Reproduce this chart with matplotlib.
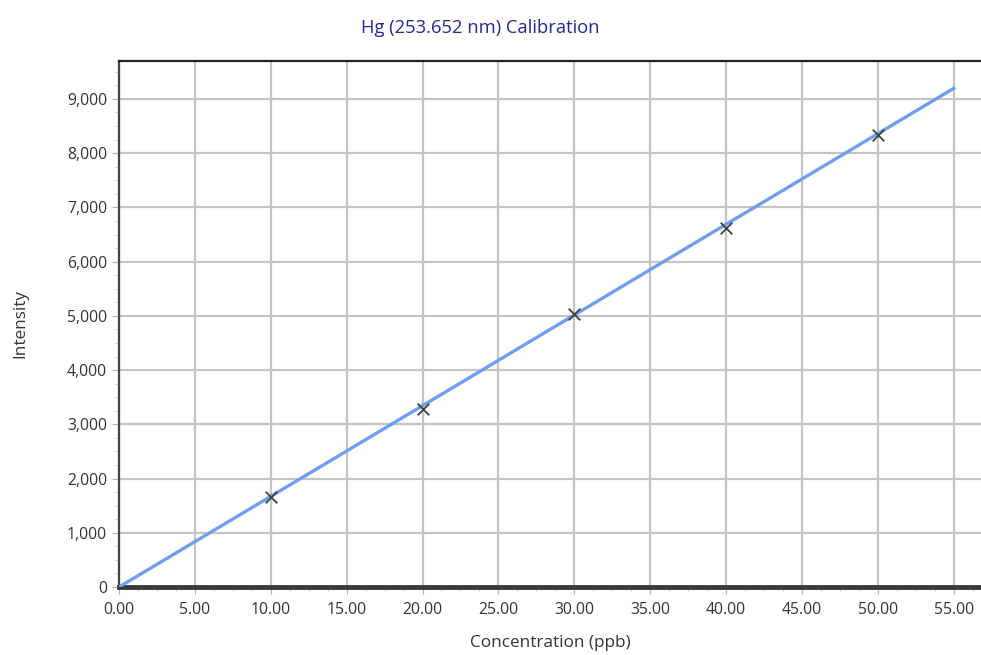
import matplotlib.pyplot as plt
from matplotlib.ticker import MultipleLocator, FuncFormatter

plt.rcParams['font.family'] = ['Open Sans', 'DejaVu Sans']

# calibration standards
conc = [10, 20, 30, 40, 50]
intensity = [1658, 3280, 5031, 6615, 8329]

# fitted calibration line end points
fit_x = [0, 55]
fit_y = [0, 9195]

fig = plt.figure(figsize=(9.81, 6.55), dpi=100)
ax = fig.add_axes([0.1213, 0.1038, 0.8787, 0.8031])

ax.plot(fit_x, fit_y, color='#6f9fec', lw=2.4, zorder=3)
ax.scatter(conc, intensity, marker='x', s=70, color='#404040', linewidths=1.3, zorder=4)

ax.set_xlim(0, 56.8)
ax.set_ylim(0, 9700)
ax.xaxis.set_major_locator(MultipleLocator(5))
ax.xaxis.set_minor_locator(MultipleLocator(1.25))
ax.yaxis.set_major_locator(MultipleLocator(1000))
ax.yaxis.set_minor_locator(MultipleLocator(250))
ax.xaxis.set_major_formatter(FuncFormatter(lambda v, p: f'{v:.2f}'))
ax.yaxis.set_major_formatter(FuncFormatter(lambda v, p: f'{v:,.0f}'))

ax.grid(True, which='major', color='#c4c4c4', lw=1.6)
ax.set_axisbelow(True)

ax.tick_params(which='major', length=5, color='#b0b0b0', labelsize=11.3, labelcolor='#333333')
ax.tick_params(axis='x', which='major', pad=6)
ax.tick_params(which='minor', length=3, color='#c8c8c8')

ax.spines['right'].set_visible(False)
ax.spines['top'].set_color('#222222')
ax.spines['top'].set_linewidth(1.6)
ax.spines['left'].set_color('#444444')
ax.spines['left'].set_linewidth(1.6)
ax.spines['bottom'].set_color('#3a3a3a')
ax.spines['bottom'].set_linewidth(3.5)

ax.set_xlabel('Concentration (ppb)', fontsize=12.3, color='#333333', labelpad=12)
ax.set_ylabel('Intensity', fontsize=12.3, color='#333333', labelpad=28)
fig.text(0.49, 0.958, 'Hg (253.652 nm) Calibration', ha='center', va='center',
         fontsize=13.2, color='#27278f')

fig.savefig('out.png', dpi=100)
